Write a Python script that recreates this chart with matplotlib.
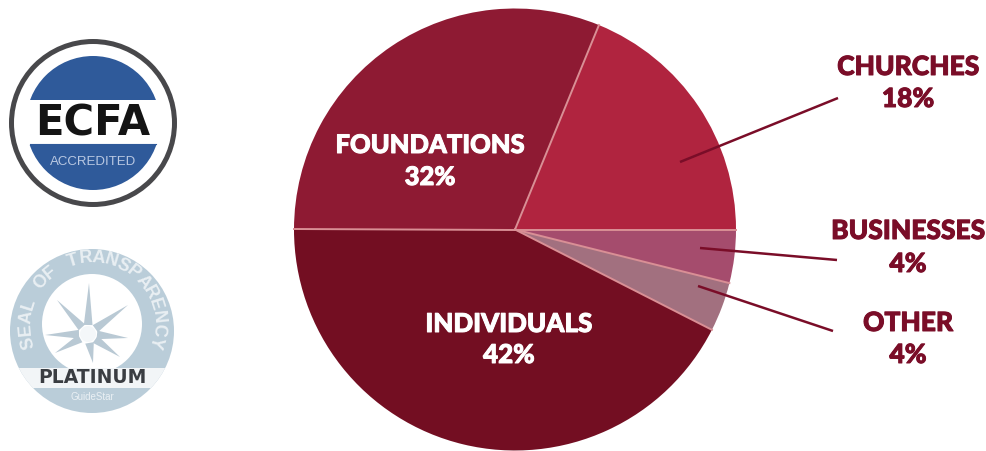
import numpy as np
import matplotlib
matplotlib.use("Agg")
import matplotlib.pyplot as plt
import matplotlib.patheffects as pe
from matplotlib.patches import Circle, Polygon, Rectangle

W, H = 987, 451

# wedge shares as measured on the picture, labels as printed
names = ["CHURCHES", "FOUNDATIONS", "INDIVIDUALS", "OTHER", "BUSINESSES"]
shares = [18.8, 31.2, 42.5, 3.6, 3.9]
percents = ["18%", "32%", "42%", "4%", "4%"]
colors = ["#b0243f", "#8e1a33", "#730e22", "#a2707f", "#a54c6d"]

label_x = [908, 430, 509, 908, 908]
label_y = [67, 145, 324, 323, 231]
pct_y = [99, 177, 355, 355, 264]
label_size = [19, 18.4, 18.7, 19, 19]
label_colors = ["#7a0d28", "white", "white", "#7a0d28", "#7a0d28"]

leaders = [((838, 98), (680, 162)), ((837, 260), (700, 248)), ((833, 331), (698, 286))]

seal_text = "SEAL OF TRANSPARENCY"
star_x = [89, 128, 128, 120, 93, 55, 45, 57]
star_y = [283, 305, 338, 357, 363, 353, 335, 300]

plt.rcParams["font.family"] = ["Lato", "DejaVu Sans"]

fig = plt.figure(figsize=(W / 100, H / 100), dpi=100)
ax = fig.add_axes([0, 0, 1, 1])
ax.set_aspect("equal")


def fy(y):
    return H - y


# pie, separators drawn apart so the outer rim stays clean
px, py, pr = 515, fy(229.5), 221
ax.pie(shares, colors=colors, startangle=0, center=(px, py), radius=pr, frame=True)
ax.set_xlim(0, W)
ax.set_ylim(0, H)
ax.axis("off")

edges = np.radians(np.cumsum(shares) / sum(shares) * 360)
for e in edges:
    ax.plot([px, px + pr * np.cos(e)], [py, py + pr * np.sin(e)], color="#d98f95", lw=1.4)

for name, pct, x, y, p, s, c in zip(names, percents, label_x, label_y, pct_y, label_size, label_colors):
    for t, ty in ((name, y), (pct, p)):
        ax.text(x, fy(ty), t, ha="center", va="center", fontsize=s, fontweight="black", color=c,
                path_effects=[pe.withStroke(linewidth=0.7, foreground=c)])

for (x0, y0), (x1, y1) in leaders:
    ax.plot([x0, x1], [fy(y0), fy(y1)], color="#7a0d28", lw=1.8, solid_capstyle="butt")

# ECFA badge
cx, cy = 93, fy(123)
ax.add_patch(Circle((cx, cy), 84, fc="#48484b", ec="none"))
ax.add_patch(Circle((cx, cy), 79, fc="white", ec="none"))
ax.add_patch(Circle((cx, cy), 67, fc="#2f5a9a", ec="none"))
ax.add_patch(Rectangle((20, fy(145)), 146, 45, fc="white", ec="none"))
ax.plot([30, 156], [fy(144), fy(144)], color="#2f5a9a", lw=0.8)
ax.text(cx, fy(123.5), "ECFA", ha="center", va="center", fontsize=30, fontweight="bold",
        family=["DejaVu Sans"], color="#141414")
ax.text(cx, fy(162), "ACCREDITED", ha="center", va="center", fontsize=9.5, color="#b9c8e2",
        family=["Liberation Sans", "DejaVu Sans"])

# transparency seal
sx, sy = 92, fy(331)
ax.add_patch(Circle((sx, sy), 82, fc="#bacdd9", ec="none"))
ax.add_patch(Circle((sx, sy + 7), 50, fc="white", ec="none"))

star_cx, star_cy = 88, fy(334)
tips = np.column_stack([star_x, [fy(v) for v in star_y]])
for tip in tips:
    a = np.arctan2(tip[1] - star_cy, tip[0] - star_cx)
    left = (star_cx + 10 * np.cos(a + 0.45), star_cy + 10 * np.sin(a + 0.45))
    right = (star_cx + 10 * np.cos(a - 0.45), star_cy + 10 * np.sin(a - 0.45))
    ax.add_patch(Polygon([left, tip, right], fc="#b9c9d4", ec="none"))
ax.add_patch(Circle((star_cx, star_cy), 8, fc="#f4f7f9", ec="none"))

band = Rectangle((0, fy(388)), 190, 20, fc="#f2f5f7", ec="none")
ax.add_patch(band)
band.set_clip_path(Circle((sx, sy), 82, transform=ax.transData))
ax.text(sx, fy(377.5), "PLATINUM", ha="center", va="center", fontsize=13.5, fontweight="bold",
        family=["DejaVu Sans"], color="#3a3d42")
ax.text(sx, fy(397), "GuideStar", ha="center", va="center", fontsize=7, color="#eaf0f4",
        family=["Liberation Sans", "DejaVu Sans"])

angles = np.linspace(196, -16, len(seal_text))
for ch, a in zip(seal_text, angles):
    r = np.radians(a)
    ax.text(sx + 66 * np.cos(r), sy + 7 + 66 * np.sin(r), ch, ha="center", va="center",
            rotation=a - 90, rotation_mode="anchor", fontsize=13, fontweight="bold", color="#e9eff3",
            family=["Liberation Sans", "DejaVu Sans"])

fig.savefig("out.png", dpi=100, facecolor="white")
plt.close(fig)
